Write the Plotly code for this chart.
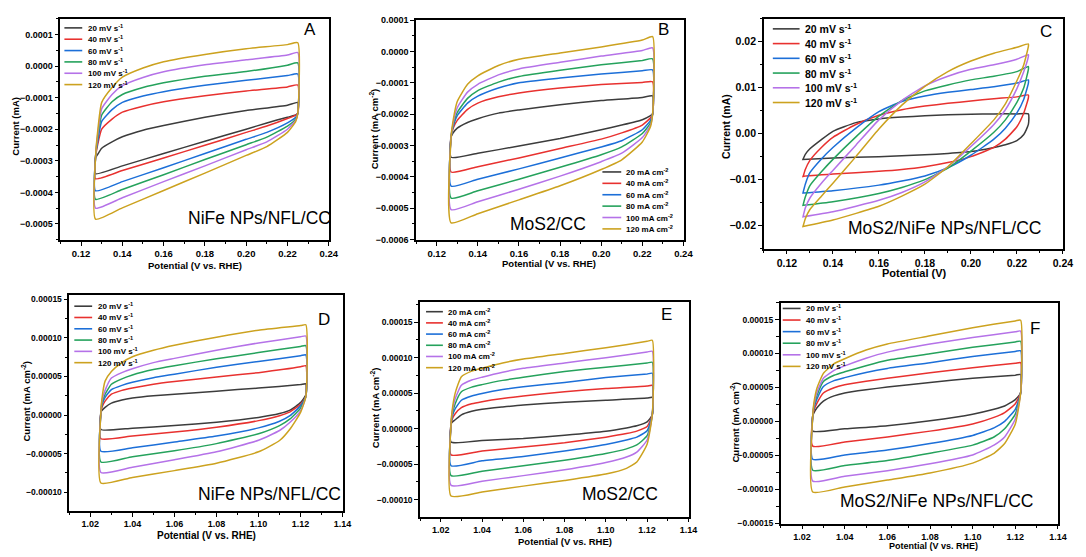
import plotly.graph_objects as go

FONT = "Liberation Sans, Arial, Helvetica, sans-serif"
W, H = 1086, 557

COLORS = ["#3c3c3c", "#e8312f", "#1c6fd8", "#25a25c", "#b572e8", "#cca21f"]
LEG_MV = ["20 mV s<sup>-1</sup>", "40 mV s<sup>-1</sup>", "60 mV s<sup>-1</sup>",
          "80 mV s<sup>-1</sup>", "100 mV s<sup>-1</sup>", "120 mV s<sup>-1</sup>"]
LEG_MA = ["20 mA cm<sup>-2</sup>", "40 mA cm<sup>-2</sup>", "60 mA cm<sup>-2</sup>",
          "80 mA cm<sup>-2</sup>", "100 mA cm<sup>-2</sup>", "120 mA cm<sup>-2</sup>"]

# ---------------- Panel A (values in 1e-4 mA) ----------------
A_UNIT = 1e-4
A_XU = [0.127, 0.128, 0.13, 0.135, 0.14, 0.15, 0.16, 0.18, 0.20, 0.22, 0.225]
A_UP = [
    [-2.9, -2.8, -2.6, -2.4, -2.24, -2.03, -1.88, -1.62, -1.41, -1.24, -1.15],
    [-2.9, -2.5, -2.0, -1.68, -1.46, -1.27, -1.13, -0.94, -0.79, -0.66, -0.6],
    [-2.9, -2.4, -1.75, -1.38, -1.15, -0.95, -0.81, -0.61, -0.45, -0.3, -0.25],
    [-2.9, -2.3, -1.55, -1.13, -0.9, -0.68, -0.53, -0.32, -0.17, 0.03, 0.1],
    [-2.9, -2.2, -1.35, -0.9, -0.62, -0.36, -0.18, 0.04, 0.2, 0.35, 0.43],
    [-2.9, -2.1, -1.15, -0.68, -0.35, -0.06, 0.14, 0.37, 0.55, 0.68, 0.74],
]
A_XL = [0.127, 0.14, 0.16, 0.18, 0.20, 0.21, 0.22, 0.224, 0.225]
A_LO = [
    [-3.41, -3.16, -2.77, -2.38, -2.0, -1.8, -1.62, -1.55, -1.5],
    [-3.57, -3.31, -2.91, -2.51, -2.1, -1.9, -1.66, -1.55, -1.5],
    [-3.95, -3.66, -3.22, -2.77, -2.32, -2.1, -1.8, -1.62, -1.5],
    [-4.22, -3.91, -3.44, -2.96, -2.49, -2.25, -1.9, -1.68, -1.5],
    [-4.5, -4.17, -3.66, -3.16, -2.65, -2.4, -2.0, -1.72, -1.5],
    [-4.85, -4.49, -3.94, -3.39, -2.83, -2.55, -2.1, -1.75, -1.5],
]

# ---------------- Panel B (values in 1e-4 mA cm-2) ----------------
B_UNIT = 1e-4
B_XU = [0.127, 0.128, 0.13, 0.135, 0.14, 0.15, 0.16, 0.18, 0.20, 0.22, 0.225]
B_UP = [
    [-2.73, -2.6, -2.45, -2.27, -2.15, -1.97, -1.87, -1.7, -1.57, -1.47, -1.42],
    [-2.73, -2.45, -2.2, -1.85, -1.65, -1.45, -1.33, -1.17, -1.06, -0.99, -0.97],
    [-2.73, -2.4, -2.05, -1.65, -1.43, -1.17, -1.0, -0.85, -0.72, -0.62, -0.59],
    [-2.73, -2.35, -1.95, -1.5, -1.25, -0.98, -0.8, -0.6, -0.43, -0.29, -0.24],
    [-2.73, -2.3, -1.8, -1.3, -1.05, -0.75, -0.56, -0.35, -0.15, 0.03, 0.11],
    [-2.73, -2.2, -1.6, -1.05, -0.78, -0.45, -0.25, -0.05, 0.14, 0.36, 0.47],
]
B_XL = [0.127, 0.14, 0.16, 0.18, 0.20, 0.21, 0.22, 0.224, 0.225]
B_LO = [
    [-3.38, -3.25, -3.02, -2.78, -2.5, -2.35, -2.18, -2.05, -2.0],
    [-3.85, -3.68, -3.4, -3.1, -2.8, -2.6, -2.35, -2.12, -2.0],
    [-4.3, -4.08, -3.75, -3.4, -3.05, -2.85, -2.5, -2.2, -2.0],
    [-4.68, -4.45, -4.08, -3.7, -3.3, -3.05, -2.62, -2.28, -2.0],
    [-5.05, -4.8, -4.4, -3.98, -3.52, -3.25, -2.75, -2.35, -2.0],
    [-5.47, -5.18, -4.74, -4.29, -3.77, -3.46, -2.89, -2.4, -2.0],
]

# ---------------- Panel C (values in 1e-2 mA) ----------------
C_UNIT = 1e-2
C_XU = [0.127, 0.128, 0.13, 0.135, 0.14, 0.15, 0.16, 0.17, 0.18, 0.19, 0.20, 0.21, 0.22, 0.225]
C_UP = [
    [-0.56, -0.45, -0.33, -0.13, 0.05, 0.24, 0.32, 0.36, 0.39, 0.41, 0.42, 0.43, 0.43, 0.43],
    [-0.94, -0.78, -0.58, -0.3, -0.08, 0.2, 0.4, 0.52, 0.6, 0.66, 0.71, 0.76, 0.8, 0.84],
    [-1.29, -1.1, -0.85, -0.55, -0.3, 0.12, 0.48, 0.7, 0.82, 0.9, 0.96, 1.02, 1.1, 1.17],
    [-1.56, -1.38, -1.13, -0.83, -0.56, -0.07, 0.38, 0.72, 0.93, 1.06, 1.17, 1.25, 1.35, 1.46],
    [-1.81, -1.62, -1.4, -1.08, -0.8, -0.25, 0.3, 0.72, 1.04, 1.25, 1.4, 1.5, 1.62, 1.72],
    [-2.02, -1.85, -1.65, -1.36, -1.08, -0.5, 0.1, 0.62, 1.03, 1.35, 1.58, 1.75, 1.88, 1.95],
]
C_XL = [0.127, 0.14, 0.16, 0.17, 0.18, 0.19, 0.20, 0.21, 0.215, 0.22, 0.223, 0.225]
C_LO = [
    [-0.56, -0.53, -0.5, -0.48, -0.46, -0.43, -0.39, -0.3, -0.24, -0.15, -0.02, 0.2],
    [-0.93, -0.88, -0.82, -0.78, -0.72, -0.63, -0.5, -0.3, -0.12, 0.15, 0.45, 0.78],
    [-1.29, -1.24, -1.12, -1.03, -0.92, -0.74, -0.47, -0.12, 0.12, 0.45, 0.75, 1.1],
    [-1.56, -1.48, -1.3, -1.17, -1.0, -0.75, -0.38, 0.03, 0.3, 0.68, 1.0, 1.4],
    [-1.81, -1.7, -1.45, -1.28, -1.05, -0.72, -0.28, 0.2, 0.52, 0.98, 1.35, 1.68],
    [-2.02, -1.88, -1.58, -1.36, -1.1, -0.72, -0.22, 0.3, 0.65, 1.15, 1.5, 1.9],
]

# ---------------- Panels D, E, F (values in 1e-5 mA cm-2) ----------------
DEF_UNIT = 1e-5
DEF_XU = [1.025, 1.0255, 1.027, 1.03, 1.035, 1.04, 1.05, 1.06, 1.08, 1.10, 1.12, 1.1225]
DEF_XL = [1.025, 1.04, 1.06, 1.08, 1.10, 1.11, 1.115, 1.12, 1.1225]
D_UP = [
    [0.3, 0.6, 1.0, 1.55, 1.95, 2.2, 2.5, 2.7, 3.1, 3.5, 3.95, 4.05],
    [0.3, 1.0, 1.8, 2.7, 3.2, 3.5, 4.0, 4.35, 4.95, 5.5, 6.25, 6.4],
    [0.3, 1.3, 2.3, 3.3, 3.85, 4.25, 4.85, 5.3, 6.2, 6.95, 7.7, 7.8],
    [0.3, 1.5, 2.7, 4.0, 4.7, 5.2, 5.9, 6.4, 7.3, 8.1, 8.9, 9.0],
    [0.3, 1.8, 3.2, 4.8, 5.5, 6.0, 6.8, 7.35, 8.4, 9.35, 10.15, 10.25],
    [0.3, 2.1, 4.4, 5.65, 6.8, 7.55, 8.4, 9.05, 10.1, 11.0, 11.6, 11.7],
]
D_LO = [
    [-1.87, -1.7, -1.36, -0.93, -0.3, 0.2, 0.64, 1.62, 2.6],
    [-3.06, -2.72, -2.2, -1.57, -0.72, -0.08, 0.42, 1.4, 2.4],
    [-4.68, -4.25, -3.49, -2.72, -1.66, -0.8, -0.08, 1.2, 2.4],
    [-6.08, -5.4, -4.63, -3.7, -2.42, -1.36, -0.5, 0.9, 2.4],
    [-7.44, -6.76, -5.8, -4.76, -3.27, -2.0, -0.93, 0.55, 2.4],
    [-8.8, -8.08, -7.2, -6.25, -4.76, -3.3, -1.8, 0.35, 2.4],
]
E_UP = [
    [0.6, 0.9, 1.25, 1.95, 2.45, 2.73, 3.05, 3.33, 3.7, 4.0, 4.3, 4.4],
    [0.6, 1.3, 2.1, 2.95, 3.5, 3.8, 4.25, 4.6, 5.2, 5.65, 6.0, 6.1],
    [0.6, 1.6, 2.8, 4.0, 4.6, 4.95, 5.5, 5.9, 6.5, 7.2, 7.7, 7.8],
    [0.6, 1.9, 3.5, 5.2, 5.85, 6.2, 6.8, 7.25, 8.05, 8.65, 9.25, 9.35],
    [0.6, 2.2, 4.2, 6.1, 6.85, 7.25, 7.95, 8.5, 9.25, 10.0, 10.8, 10.9],
    [0.6, 2.5, 5.0, 7.3, 8.1, 8.5, 9.25, 9.8, 10.6, 11.4, 12.3, 12.45],
]
E_LO = [
    [-1.9, -1.67, -1.39, -0.93, -0.37, 0.1, 0.4, 0.95, 1.95],
    [-3.7, -3.15, -2.6, -2.0, -1.2, -0.7, -0.35, 0.3, 1.95],
    [-5.23, -4.54, -3.94, -3.15, -2.22, -1.6, -1.2, -0.3, 1.95],
    [-6.62, -6.0, -5.23, -4.44, -3.5, -2.85, -2.3, -1.0, 1.95],
    [-8.0, -7.4, -6.62, -5.8, -4.77, -4.0, -3.3, -1.6, 1.95],
    [-9.5, -8.93, -8.1, -7.3, -6.4, -5.6, -4.7, -2.2, 1.95],
]
F_UP = [
    [0.8, 1.2, 2.0, 2.98, 3.75, 4.18, 4.65, 5.05, 5.72, 6.35, 6.8, 6.9],
    [0.8, 1.6, 2.7, 4.18, 4.95, 5.38, 5.9, 6.35, 7.16, 7.9, 8.55, 8.65],
    [0.8, 1.9, 3.3, 5.14, 6.0, 6.44, 7.2, 7.8, 8.65, 9.57, 10.3, 10.4],
    [0.8, 2.1, 3.8, 5.87, 6.8, 7.3, 8.2, 9.0, 9.95, 10.9, 11.7, 11.8],
    [0.8, 2.3, 4.3, 6.35, 7.5, 8.17, 9.3, 10.2, 11.4, 12.35, 13.2, 13.3],
    [0.8, 2.6, 4.9, 7.07, 8.5, 9.23, 10.5, 11.4, 12.6, 13.8, 14.8, 14.9],
]
F_LO = [
    [-1.44, -1.1, -0.63, 0.1, 1.06, 1.78, 2.26, 3.2, 4.2],
    [-3.65, -3.03, -2.3, -1.44, -0.38, 0.58, 1.3, 2.6, 4.2],
    [-5.58, -4.95, -4.23, -3.27, -2.07, -0.96, 0.0, 1.78, 4.2],
    [-7.2, -6.5, -5.77, -4.7, -3.5, -2.3, -1.1, 1.06, 4.2],
    [-8.8, -8.08, -7.26, -6.25, -4.95, -3.5, -2.3, 0.34, 4.2],
    [-10.4, -9.66, -8.65, -7.6, -6.15, -4.7, -3.27, -0.38, 4.2],
]

# ---------------- panel layout (pixel geometry & styles) ----------------
PANELS = [
    dict(xu=A_XU, up=A_UP, xl=A_XL, lo=A_LO, unit=A_UNIT, box=(61, 332, 14, 239),
         xr=[0.11, 0.2401], xt0=0.12, yr=[-0.00055, 0.00015], ydt=1e-4, yfmt=".4f",
         xtf=9.5, ytf=9, letter=("A", 313, 25), sample=("NiFe NPs/NFL/CC", 262, 217),
         xtitle=("Potential (V vs. RHE)", 197, 265, 9.5), ytitle=("Current (mA)", 16, 123, 9.5),
         leg=(LEG_MV, 65, 83, 87, 23.3, 11.55, 8)),
    dict(xu=B_XU, up=B_UP, xl=B_XL, lo=B_LO, unit=B_UNIT, box=(420, 690, 15, 239),
         xr=[0.11, 0.2401], xt0=0.12, yr=[-0.000601, 0.000101], ydt=1e-4, yfmt=".4f",
         xtf=9.5, ytf=9, letter=("B", 670, 25), sample=("MoS2/CC", 553, 223),
         xtitle=("Potential (V vs. RHE)", 554, 263, 9.5),
         ytitle=("Current (mA cm<sup>-2</sup>)", 377, 126, 9.5),
         leg=(LEG_MA, 608, 627, 630, 170, 11.6, 8)),
    dict(xu=C_XU, up=C_UP, xl=C_XL, lo=C_LO, unit=C_UNIT, box=(771, 1073, 14, 248),
         xr=[0.11, 0.2401], xt0=0.12, yr=[-0.025, 0.025], ydt=0.01, yfmt=".2f",
         xtf=10.5, ytf=10.5, letter=("C", 1056, 27), sample=("MoS2/NiFe NPs/NFL/CC", 954, 227),
         xtitle=("Potential (V)", 923, 273, 11), ytitle=("Current (mA)", 733, 124, 10.5),
         leg=(LEG_MV, 780, 807, 810, 24.3, 15, 10.5)),
    dict(xu=DEF_XU, up=D_UP, xl=DEF_XL, lo=D_LO, unit=DEF_UNIT, box=(70, 346, 295, 515),
         xr=[1.01, 1.1401], xt0=1.02, yr=[-0.000124, 0.000156], ydt=5e-5, yfmt=".5f",
         xtf=9, ytf=8.5, letter=("D", 327, 320), sample=("NiFe NPs/NFL/CC", 272, 498),
         xtitle=("Potential (V vs. RHE)", 208, 540, 10),
         ytitle=("Current (mA cm<sup>-2</sup>)", 26, 403, 9.5),
         leg=(LEG_MV, 75, 93, 97, 306.7, 11.5, 8)),
    dict(xu=DEF_XU, up=E_UP, xl=DEF_XL, lo=E_LO, unit=DEF_UNIT, box=(424, 695, 302, 521),
         xr=[1.01, 1.1401], xt0=1.02, yr=[-0.000124, 0.000179], ydt=5e-5, yfmt=".5f",
         xtf=9, ytf=8.5, letter=("E", 673, 315), sample=("MoS2/CC", 626, 498),
         xtitle=("Potential (V vs. RHE)", 570, 546, 9.5),
         ytitle=("Current (mA cm<sup>-2</sup>)", 378, 410, 9.5),
         leg=(LEG_MA, 430, 447, 450, 312.3, 11.4, 8)),
    dict(xu=DEF_XU, up=F_UP, xl=DEF_XL, lo=F_LO, unit=DEF_UNIT, box=(788, 1068, 303, 528),
         xr=[1.01, 1.1401], xt0=1.02, yr=[-0.0001505, 0.000175], ydt=5e-5, yfmt=".5f",
         xtf=9, ytf=8.5, letter=("F", 1045, 329), sample=("MoS2/NiFe NPs/NFL/CC", 946, 505),
         xtitle=("Potential (V vs. RHE)", 942, 551, 9),
         ytitle=("Current (mA cm<sup>-2</sup>)", 742, 425, 9.5),
         leg=(LEG_MV, 790, 808, 811, 309, 11.8, 8)),
]


def fx(x):
    return x / W


def fy(y):
    return 1 - y / H


fig = go.Figure()
layout = dict(width=W, height=H, margin=dict(l=0, r=0, t=0, b=0),
              paper_bgcolor="white", plot_bgcolor="white", showlegend=False,
              font=dict(family=FONT, color="black"))
annotations = []
shapes = []

for i, p in enumerate(PANELS):
    n = "" if i == 0 else str(i + 1)
    x0, x1, y0, y1 = p["box"]
    common = dict(showline=True, linecolor="black", linewidth=1.6, mirror=True,
                  ticks="outside", ticklen=4, tickwidth=1.3, tickcolor="black",
                  showgrid=False, zeroline=False)
    layout["xaxis" + n] = dict(domain=[fx(x0), fx(x1)], range=p["xr"], anchor="y" + n,
                               tickmode="linear", tick0=p["xt0"], dtick=0.02, tickformat=".2f",
                               tickfont=dict(family=FONT, size=p["xtf"], color="black", weight="bold"),
                               minor=dict(ticks="outside", dtick=0.01, ticklen=2.5, tickwidth=1,
                                          tickcolor="black", showgrid=False),
                               **common)
    layout["yaxis" + n] = dict(domain=[fy(y1), fy(y0)], range=p["yr"], anchor="x" + n,
                               tickmode="linear", tick0=0, dtick=p["ydt"], tickformat=p["yfmt"],
                               tickfont=dict(family=FONT, size=p["ytf"], color="black", weight="bold"),
                               minor=dict(ticks="outside", dtick=p["ydt"] / 2, ticklen=2.5, tickwidth=1,
                                          tickcolor="black", showgrid=False),
                               **common)
    for j in range(6):
        xs = p["xu"] + p["xl"][::-1] + [p["xu"][0]]
        ys = [v * p["unit"] for v in p["up"][j] + p["lo"][j][::-1] + [p["up"][j][0]]]
        fig.add_trace(go.Scatter(x=xs, y=ys, mode="lines", xaxis="x" + n, yaxis="y" + n,
                                 line=dict(color=COLORS[j], width=1.5, shape="spline", smoothing=0.5),
                                 hoverinfo="skip"))
    t, lx, ly = p["letter"]
    annotations.append(dict(text=t, x=fx(lx), y=fy(ly), xref="paper", yref="paper", showarrow=False,
                            font=dict(family=FONT, size=17, color="black"), xanchor="center", yanchor="middle"))
    t, sx, sy = p["sample"]
    annotations.append(dict(text=t, x=fx(sx), y=fy(sy), xref="paper", yref="paper", showarrow=False,
                            font=dict(family=FONT, size=17.5, color="black"), xanchor="center", yanchor="middle"))
    t, tx, ty, fs = p["xtitle"]
    annotations.append(dict(text=t, x=fx(tx), y=fy(ty), xref="paper", yref="paper", showarrow=False,
                            font=dict(family=FONT, size=fs, color="black", weight="bold"),
                            xanchor="center", yanchor="middle", borderpad=0))
    t, tx, ty, fs = p["ytitle"]
    annotations.append(dict(text=t, x=fx(tx), y=fy(ty), xref="paper", yref="paper", showarrow=False,
                            textangle=-90,
                            font=dict(family=FONT, size=fs, color="black", weight="bold"),
                            xanchor="center", yanchor="middle"))
    labels, lx0, lx1, ltx, ly0, lstep, lfs = p["leg"]
    for j, lab in enumerate(labels):
        yy = ly0 + j * lstep
        shapes.append(dict(type="line", xref="paper", yref="paper", x0=fx(lx0), x1=fx(lx1),
                           y0=fy(yy), y1=fy(yy), line=dict(color=COLORS[j], width=1.6)))
        annotations.append(dict(text=lab, x=fx(ltx), y=fy(yy), xref="paper", yref="paper",
                                showarrow=False, xanchor="left", yanchor="middle",
                                font=dict(family=FONT, size=lfs, color="black", weight="bold")))

layout["annotations"] = annotations
layout["shapes"] = shapes
fig.update_layout(**layout)
fig.write_html("out.html", config={"displayModeBar": False},
               post_script="document.body.style.margin='0';document.body.style.padding='0';")
